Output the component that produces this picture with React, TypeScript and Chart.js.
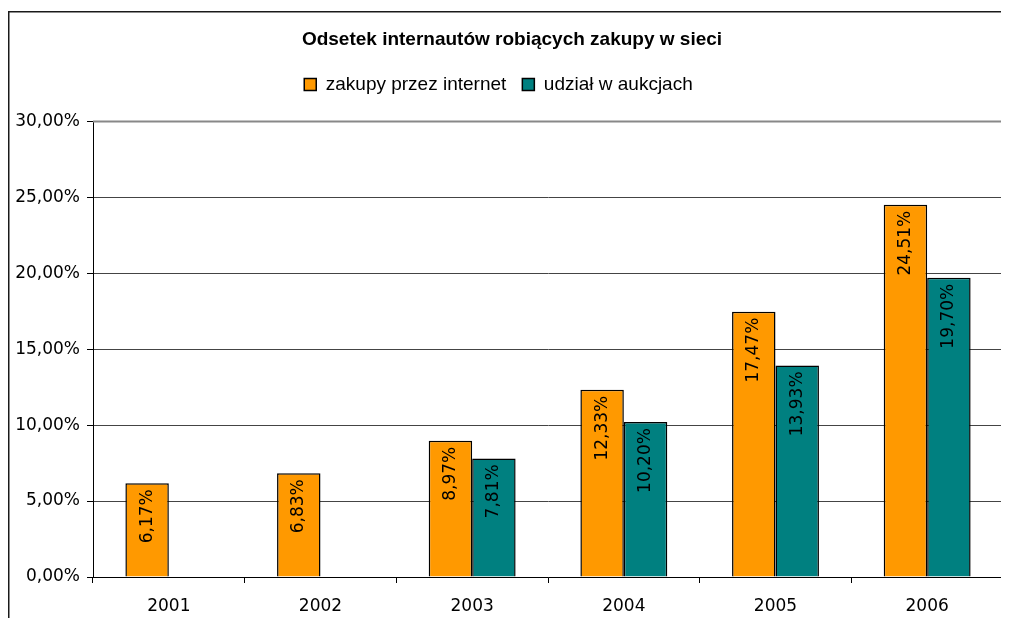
import React, { useEffect, useRef } from "react";
import { Chart, registerables } from "chart.js";

Chart.register(...registerables);

const categories = ["2001", "2002", "2003", "2004", "2005", "2006"];
const zakupy = [6.17, 6.83, 8.97, 12.33, 17.47, 24.51];
const aukcje = [null, null, 7.81, 10.2, 13.93, 19.7];
const seriesNames = ["zakupy przez internet", "udział w aukcjach"];
const titleText = "Odsetek internautów robiących zakupy w sieci";

const fmt = (v: number) => v.toFixed(2).replace(".", ",") + "%";

const LEGEND_SHIFT = 17.5;

const decorPlugin = {
  id: "decor",
  afterLayout(chart: any) {
    if (chart.titleBlock) {
      chart.titleBlock.left += 6.5;
      chart.titleBlock.right += 6.5;
    }
    if (chart.legend) {
      chart.legend.left -= 7;
      chart.legend.right -= 7;
      chart.legend.top -= LEGEND_SHIFT;
      chart.legend.bottom -= LEGEND_SHIFT;
    }
  },
  beforeDraw(chart: any) {
    const ctx = chart.ctx;
    ctx.save();
    ctx.fillStyle = "#1a1a1a";
    ctx.fillRect(0, 3, 1.5, chart.height);
    ctx.fillRect(0, 3, chart.width, 1.5);
    ctx.restore();
  },
  afterDatasetsDraw(chart: any) {
    const ctx = chart.ctx;
    const area = chart.chartArea;
    ctx.save();
    ctx.font = "17px 'DejaVu Sans'";
    ctx.fillStyle = "#000";
    ctx.textAlign = "right";
    ctx.textBaseline = "middle";
    chart.data.datasets.forEach((ds: any, di: number) => {
      const meta = chart.getDatasetMeta(di);
      meta.data.forEach((bar: any, i: number) => {
        const v = ds.data[i];
        if (v === null || v === undefined) return;
        ctx.save();
        ctx.translate(bar.x, bar.y + 6);
        ctx.rotate(-Math.PI / 2);
        ctx.fillText(fmt(v), 0, 0);
        ctx.restore();
      });
    });
    ctx.strokeStyle = "#888";
    ctx.lineWidth = 2;
    ctx.beginPath();
    ctx.moveTo(area.left, area.top);
    ctx.lineTo(area.right, area.top);
    ctx.lineTo(area.right, area.bottom);
    ctx.stroke();
    ctx.restore();
  },
};

export default function App() {
  const ref = useRef<HTMLCanvasElement>(null);
  useEffect(() => {
    if (!ref.current) return;
    const chart = new Chart(ref.current, {
      type: "bar",
      data: {
        labels: categories,
        datasets: [
          {
            label: seriesNames[0],
            data: zakupy,
            backgroundColor: "#FF9900",
            borderColor: "#000",
            borderWidth: 1.5,
            categoryPercentage: 0.573,
            barPercentage: 1.0,
          },
          {
            label: seriesNames[1],
            data: aukcje as any,
            backgroundColor: "#008080",
            borderColor: "#000",
            borderWidth: 1.5,
            categoryPercentage: 0.573,
            barPercentage: 1.0,
          },
        ],
      },
      options: {
        responsive: false,
        animation: false,
        layout: { padding: { left: 0, right: 6, top: 0, bottom: 0 } },
        plugins: {
          title: {
            display: true,
            text: titleText,
            color: "#000",
            font: { family: "'Liberation Sans', Arial", size: 19, weight: "bold" },
            padding: { top: 20.6, bottom: 25 },
          },
          legend: {
            display: true,
            position: "top",
            labels: {
              color: "#000",
              font: { family: "'Liberation Sans', Arial", size: 19 },
              boxWidth: 12,
              boxHeight: 12,
              padding: 16,
            },
          },
          tooltip: { enabled: false },
        },
        scales: {
          x: {
            grid: {
              offset: true,
              drawOnChartArea: false,
              drawTicks: true,
              tickLength: 6,
              tickColor: "#000",
            },
            border: { color: "#000", width: 1 },
            ticks: {
              color: "#000",
              padding: 13,
              font: { family: "'DejaVu Sans'", size: 17 },
              maxRotation: 0,
            },
            afterFit(scale: any) {
              scale.height = 41;
            },
          },
          y: {
            min: 0,
            max: 30,
            grid: {
              color: "#444",
              drawTicks: true,
              tickLength: 6,
              tickColor: "#000",
            },
            border: { color: "#000", width: 1 },
            ticks: {
              stepSize: 5,
              color: "#000",
              padding: 7,
              font: { family: "'DejaVu Sans'", size: 17 },
              callback: (v: any) => fmt(Number(v)),
            },
            afterFit(scale: any) {
              scale.width = 85;
            },
          },
        },
      },
      plugins: [decorPlugin],
    });
    return () => chart.destroy();
  }, []);
  return (
    <div style={{ width: 1001, height: 610 }}>
      <canvas ref={ref} width={1001} height={610} style={{ display: "block" }} />
    </div>
  );
}
